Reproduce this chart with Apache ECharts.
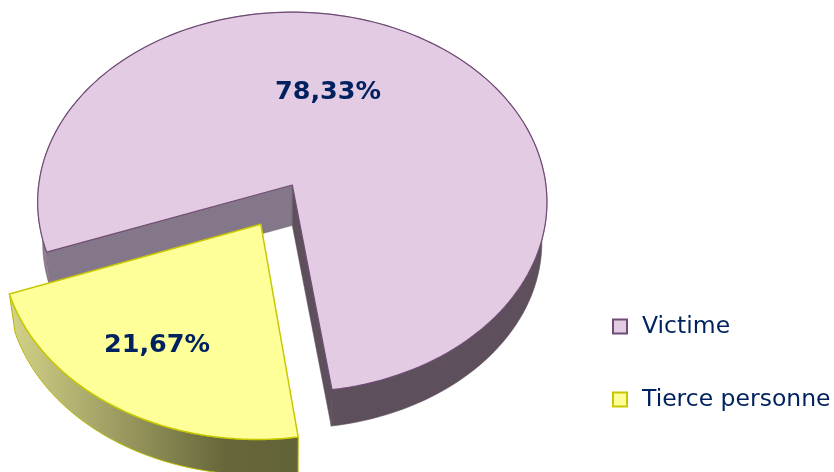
<!DOCTYPE html>
<html>
<head>
<meta charset="utf-8">
<style>html,body{margin:0;padding:0;background:#fff}#c{width:834px;height:472px}</style>
<script src="https://cdn.jsdelivr.net/npm/echarts@6/dist/echarts.min.js"></script>
</head>
<body>
<div id="c"></div>
<script>
var categories = ['Victime', 'Tierce personne'];
var shares = [78.33, 21.67];

var FONT = '"DejaVu Sans", sans-serif';
var TEXT = '#00215F';
var startDeg = 278.2, k = 0.09, cx = 292.3, cy = 185, A = 188.4, B = 253.6, dz = 40.5, sz = 0.98, explode = 0.238;
var total = shares[0] + shares[1];

function project(u, v, bottom) {
  var w = 1 + k * v, s = bottom ? sz : 1;
  return [cx + B * u / w * s, cy - A * v / w * s + (bottom ? dz : 0)];
}
function arcPts(a0, a1, ou, ov, bottom) {
  var n = 160, out = [];
  for (var i = 0; i <= n; i++) {
    var t = (a0 + (a1 - a0) * i / n) * Math.PI / 180;
    out.push(project(ou + Math.cos(t), ov + Math.sin(t), bottom));
  }
  return out;
}
function grad(x0, x1, stops) {
  return new echarts.graphic.LinearGradient(x0, 0, x1, 0, stops, true);
}
var looks = [
  { face: '#E3CBE3', line: '#6F4B75', width: 1.2, cutA: '#85778A', cutB: '#5D4F5B',
    wall: function () { return grad(38, 340, [{offset:0,color:'#9C869C'},{offset:0.06,color:'#8A7688'},{offset:1,color:'#5D4F5B'}]); },
    label: [328, 92] },
  { face: '#FFFF99', line: '#C8C800', width: 1.5, cutA: '#85778A', cutB: '#5D4F5B',
    wall: function () { return grad(10, 298, [{offset:0,color:'#D2D288'},{offset:0.75,color:'#66663A'},{offset:1,color:'#636338'}]); },
    label: [157, 345] }
];

function sliceRender(idx) {
  return function (params, api) {
    var value = api.value(0), look = looks[idx];
    var a0 = startDeg, i;
    for (i = 0; i < idx; i++) a0 += shares[i] / total * 360;
    var a1 = a0 + value / total * 360;
    var ou = 0, ov = 0;
    if (idx === 1) {
      var mid = (a0 + a1) / 2 * Math.PI / 180;
      ou = explode * Math.cos(mid); ov = explode * Math.sin(mid);
    }
    var topArc = arcPts(a0, a1, ou, ov, false), botArc = arcPts(a0, a1, ou, ov, true);
    var apexT = project(ou, ov, false), apexB = project(ou, ov, true);
    var kids = [];
    kids.push({ type: 'polygon', shape: { points: topArc.concat(botArc.slice().reverse()) },
      style: { fill: look.wall(), stroke: idx === 1 ? '#B8B800' : '#5D4F5B', lineWidth: idx === 1 ? 1 : 0.6 } });
    if (idx === 0) {
      var endT = topArc[topArc.length - 1], endB = botArc[botArc.length - 1];
      var stT = topArc[0], stB = botArc[0];
      kids.push({ type: 'polygon', shape: { points: [apexT, endT, endB, apexB] },
        style: { fill: look.cutA, stroke: look.cutA, lineWidth: 0.5 } });
      kids.push({ type: 'polygon', shape: { points: [apexT, stT, stB, apexB] },
        style: { fill: look.cutB, stroke: look.cutB, lineWidth: 0.5 } });
    }
    kids.push({ type: 'polygon', shape: { points: [apexT].concat(topArc) },
      style: { fill: look.face, stroke: look.line, lineWidth: look.width, lineJoin: 'round' } });
    kids.push({ type: 'text', x: look.label[0], y: look.label[1],
      style: { text: value.toFixed(2).replace('.', ',') + '%', fill: TEXT, font: 'bold 25.5px ' + FONT,
        align: 'center', verticalAlign: 'middle' } });
    return { type: 'group', children: kids };
  };
}

var chart = echarts.init(document.getElementById('c'), null, { renderer: 'canvas' });
chart.setOption({
  animation: false,
  backgroundColor: '#fff',
  legend: {
    data: categories, orient: 'vertical', left: 612, top: 314.5, itemWidth: 14, itemHeight: 14, itemGap: 49,
    icon: 'rect', selectedMode: false, padding: 0,
    textStyle: { color: TEXT, fontFamily: FONT, fontSize: 23.5, padding: [0, 0, 0, 10] }
  },
  series: [
    { type: 'custom', name: categories[0], z: 2, coordinateSystem: 'none', renderItem: sliceRender(0),
      data: [[shares[0]]], silent: true, clip: false,
      itemStyle: { color: looks[0].face, borderColor: looks[0].line, borderWidth: 2 } },
    { type: 'custom', name: categories[1], z: 3, coordinateSystem: 'none', renderItem: sliceRender(1),
      data: [[shares[1]]], silent: true, clip: false,
      itemStyle: { color: looks[1].face, borderColor: looks[1].line, borderWidth: 2 } }
  ]
});
</script>
</body>
</html>
